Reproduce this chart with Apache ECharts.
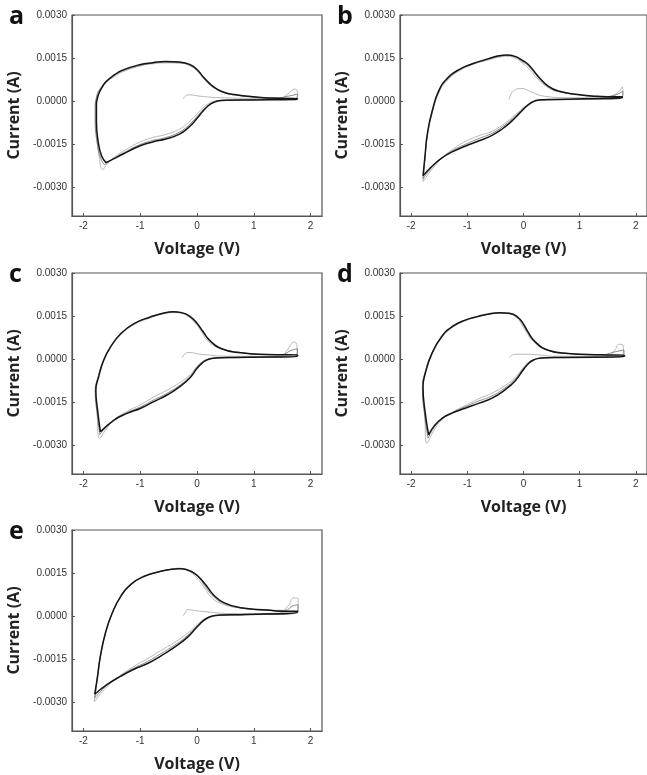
<!DOCTYPE html>
<html><head><meta charset="utf-8">
<script src="https://cdn.jsdelivr.net/npm/echarts@6/dist/echarts.min.js"></script>
<style>html,body{margin:0;padding:0;background:#fff}#c{width:647px;height:775px}</style>
</head><body><div id="c"></div>
<script>
// Tick values / labels
const xTicks = [-2, -1, 0, 1, 2];
const yTicks = [-0.003, -0.0015, 0, 0.0015, 0.003];
const panelLetters = ['a', 'b', 'c', 'd', 'e'];

// Curves: [voltage (V), current (mA)]
const aFirst = [[-0.24,0.08],[-0.20,0.18],[-0.14,0.22],[0.06,0.17],[0.40,0.12],[1.00,0.10],[1.45,0.10],[1.60,0.25],[1.72,0.42],[1.77,0.30],[1.74,0.10],[1.00,0.06],[0.55,0.04],[0.42,0.03],[0.30,0.00],[0.20,-0.09],[0.10,-0.24],[0.02,-0.40],[-0.06,-0.57],[-0.15,-0.74],[-0.31,-0.98],[-0.55,-1.16],[-0.78,-1.27],[-1.01,-1.43],[-1.31,-1.76],[-1.46,-1.96],[-1.58,-2.18],[-1.66,-2.38],[-1.72,-1.95],[-1.76,-1.30],[-1.79,-0.60],[-1.79,-0.10],[-1.77,0.12],[-1.74,0.30],[-1.69,0.47],[-1.60,0.66],[-1.45,0.86],[-1.31,1.02],[-1.01,1.22],[-0.78,1.30],[-0.55,1.33],[-0.30,1.32],[-0.13,1.24],[0.00,1.08],[0.12,0.82],[0.22,0.62],[0.32,0.46],[0.47,0.32],[0.65,0.24],[1.00,0.15],[1.41,0.11],[1.77,0.10]];
const aSecond = [[-1.63,-2.22],[-1.70,-1.95],[-1.76,-1.42],[-1.79,-0.70],[-1.79,-0.12],[-1.77,0.10],[-1.75,0.27],[-1.70,0.44],[-1.61,0.66],[-1.46,0.89],[-1.31,1.05],[-1.01,1.24],[-0.78,1.32],[-0.55,1.36],[-0.30,1.34],[-0.13,1.25],[0.00,1.06],[0.12,0.78],[0.22,0.58],[0.32,0.44],[0.47,0.30],[0.65,0.22],[1.00,0.14],[1.41,0.11],[1.62,0.18],[1.77,0.24],[1.74,0.07],[1.00,0.05],[0.55,0.03],[0.42,0.02],[0.30,-0.03],[0.20,-0.13],[0.10,-0.31],[0.02,-0.49],[-0.06,-0.67],[-0.15,-0.85],[-0.31,-1.08],[-0.55,-1.27],[-0.78,-1.37],[-1.01,-1.52],[-1.31,-1.82],[-1.46,-1.99],[-1.63,-2.22]];
const aLast = [[-1.60,-2.14],[-1.68,-1.90],[-1.74,-1.40],[-1.77,-0.70],[-1.77,-0.10],[-1.75,0.12],[-1.72,0.30],[-1.67,0.48],[-1.60,0.68],[-1.45,0.92],[-1.31,1.08],[-1.01,1.27],[-0.78,1.34],[-0.55,1.38],[-0.30,1.36],[-0.13,1.28],[0.00,1.10],[0.12,0.82],[0.22,0.62],[0.32,0.46],[0.47,0.31],[0.65,0.23],[1.00,0.15],[1.41,0.10],[1.77,0.09],[1.74,0.06],[1.00,0.04],[0.55,0.03],[0.42,0.02],[0.30,-0.04],[0.20,-0.16],[0.10,-0.36],[0.02,-0.55],[-0.06,-0.74],[-0.15,-0.92],[-0.31,-1.15],[-0.55,-1.32],[-0.78,-1.42],[-1.01,-1.56],[-1.31,-1.85],[-1.46,-2.00],[-1.60,-2.14]];

const bFirst = [[-0.26,0.06],[-0.22,0.25],[-0.18,0.35],[-0.10,0.43],[-0.03,0.44],[0.05,0.40],[0.15,0.31],[0.38,0.17],[0.79,0.12],[1.38,0.12],[1.55,0.18],[1.68,0.30],[1.76,0.50],[1.77,0.25],[1.70,0.08],[1.09,0.06],[0.50,0.04],[0.34,0.03],[0.24,0.01],[0.16,-0.03],[0.09,-0.10],[0.00,-0.22],[-0.09,-0.38],[-0.20,-0.56],[-0.38,-0.84],[-0.56,-1.05],[-0.79,-1.20],[-1.03,-1.40],[-1.26,-1.68],[-1.44,-1.96],[-1.62,-2.35],[-1.79,-2.80],[-1.76,-2.10],[-1.71,-1.20],[-1.62,-0.38],[-1.50,0.32],[-1.35,0.74],[-1.15,1.05],[-0.91,1.27],[-0.62,1.44],[-0.44,1.53],[-0.30,1.56],[-0.15,1.50],[-0.02,1.32],[0.09,1.14],[0.26,0.76],[0.44,0.47],[0.62,0.33],[0.97,0.22],[1.21,0.16],[1.50,0.14],[1.76,0.14]];
const bSecond = [[-1.79,-2.70],[-1.76,-2.08],[-1.71,-1.15],[-1.62,-0.33],[-1.50,0.37],[-1.35,0.78],[-1.15,1.08],[-0.91,1.29],[-0.62,1.46],[-0.44,1.56],[-0.30,1.59],[-0.15,1.54],[-0.02,1.38],[0.09,1.22],[0.26,0.83],[0.44,0.50],[0.62,0.34],[0.97,0.23],[1.21,0.18],[1.50,0.16],[1.65,0.22],[1.77,0.35],[1.76,0.11],[1.09,0.07],[0.50,0.05],[0.34,0.04],[0.24,0.02],[0.16,-0.03],[0.09,-0.11],[0.00,-0.25],[-0.09,-0.42],[-0.20,-0.62],[-0.38,-0.90],[-0.56,-1.12],[-0.79,-1.30],[-1.03,-1.50],[-1.26,-1.72],[-1.44,-1.96],[-1.62,-2.28],[-1.79,-2.70]];
const bLast = [[-1.79,-2.60],[-1.76,-2.02],[-1.71,-1.10],[-1.62,-0.29],[-1.50,0.40],[-1.35,0.81],[-1.15,1.10],[-0.91,1.30],[-0.62,1.48],[-0.44,1.58],[-0.30,1.61],[-0.15,1.56],[-0.02,1.42],[0.09,1.27],[0.26,0.87],[0.44,0.52],[0.62,0.35],[0.97,0.23],[1.21,0.18],[1.50,0.15],[1.76,0.15],[1.76,0.12],[1.09,0.08],[0.50,0.06],[0.34,0.05],[0.24,0.03],[0.16,-0.03],[0.09,-0.12],[0.00,-0.28],[-0.09,-0.46],[-0.20,-0.68],[-0.38,-0.97],[-0.56,-1.19],[-0.79,-1.38],[-1.03,-1.56],[-1.26,-1.76],[-1.44,-1.96],[-1.62,-2.25],[-1.79,-2.60]];

const cFirst = [[-0.26,0.06],[-0.20,0.20],[-0.14,0.23],[0.06,0.17],[0.65,0.10],[1.47,0.10],[1.60,0.35],[1.71,0.60],[1.76,0.45],[1.74,0.10],[0.65,0.05],[0.40,0.04],[0.28,0.02],[0.18,-0.01],[0.10,-0.08],[0.00,-0.25],[-0.11,-0.52],[-0.29,-0.80],[-0.52,-1.07],[-0.76,-1.32],[-0.99,-1.58],[-1.23,-1.82],[-1.46,-2.12],[-1.62,-2.50],[-1.71,-2.76],[-1.76,-1.90],[-1.79,-1.12],[-1.74,-0.62],[-1.65,-0.06],[-1.53,0.40],[-1.34,0.85],[-1.11,1.20],[-0.82,1.44],[-0.60,1.57],[-0.42,1.62],[-0.27,1.59],[-0.15,1.48],[-0.03,1.25],[0.07,0.98],[0.17,0.68],[0.35,0.42],[0.77,0.23],[1.24,0.16],[1.77,0.14]];
const cSecond = [[-1.71,-2.62],[-1.76,-1.82],[-1.79,-1.10],[-1.74,-0.62],[-1.65,-0.05],[-1.53,0.41],[-1.34,0.87],[-1.11,1.22],[-0.82,1.46],[-0.60,1.59],[-0.42,1.64],[-0.27,1.61],[-0.14,1.49],[-0.01,1.25],[0.09,0.98],[0.20,0.70],[0.40,0.39],[0.77,0.23],[1.24,0.16],[1.50,0.16],[1.65,0.30],[1.77,0.36],[1.76,0.10],[0.65,0.06],[0.40,0.05],[0.28,0.03],[0.18,-0.02],[0.10,-0.10],[0.00,-0.29],[-0.11,-0.58],[-0.29,-0.89],[-0.52,-1.18],[-0.76,-1.42],[-0.99,-1.66],[-1.23,-1.86],[-1.46,-2.12],[-1.71,-2.62]];
const cLast = [[-1.70,-2.53],[-1.75,-1.77],[-1.78,-1.08],[-1.73,-0.61],[-1.64,-0.03],[-1.52,0.43],[-1.34,0.89],[-1.11,1.24],[-0.82,1.47],[-0.60,1.60],[-0.42,1.65],[-0.27,1.62],[-0.13,1.50],[0.00,1.25],[0.10,0.98],[0.21,0.68],[0.42,0.37],[0.77,0.22],[1.24,0.16],[1.77,0.14],[1.77,0.10],[0.65,0.06],[0.40,0.05],[0.28,0.03],[0.18,-0.02],[0.10,-0.12],[0.00,-0.32],[-0.11,-0.62],[-0.29,-0.94],[-0.52,-1.24],[-0.76,-1.48],[-0.99,-1.71],[-1.23,-1.89],[-1.46,-2.12],[-1.70,-2.53]];

const dFirst = [[-0.25,0.06],[-0.20,0.14],[-0.15,0.17],[0.03,0.17],[0.62,0.10],[1.50,0.10],[1.62,0.30],[1.71,0.52],[1.78,0.45],[1.76,0.10],[0.62,0.05],[0.40,0.04],[0.28,0.02],[0.18,-0.02],[0.09,-0.10],[0.00,-0.28],[-0.15,-0.64],[-0.33,-0.92],[-0.56,-1.18],[-0.80,-1.38],[-1.04,-1.62],[-1.28,-1.86],[-1.45,-2.10],[-1.60,-2.50],[-1.72,-2.93],[-1.76,-2.00],[-1.80,-1.00],[-1.76,-0.52],[-1.64,0.16],[-1.46,0.74],[-1.28,1.08],[-1.04,1.33],[-0.81,1.47],[-0.60,1.56],[-0.42,1.60],[-0.25,1.57],[-0.12,1.44],[-0.03,1.20],[0.06,0.92],[0.17,0.62],[0.40,0.33],[0.79,0.20],[1.38,0.15],[1.80,0.13]];
const dSecond = [[-1.70,-2.75],[-1.76,-1.95],[-1.80,-0.98],[-1.76,-0.51],[-1.64,0.18],[-1.46,0.76],[-1.28,1.10],[-1.04,1.35],[-0.81,1.48],[-0.60,1.57],[-0.42,1.61],[-0.25,1.59],[-0.11,1.45],[-0.01,1.21],[0.07,0.94],[0.19,0.62],[0.42,0.32],[0.79,0.20],[1.38,0.15],[1.62,0.25],[1.79,0.32],[1.79,0.09],[0.62,0.06],[0.40,0.05],[0.28,0.03],[0.18,-0.02],[0.09,-0.13],[0.00,-0.33],[-0.15,-0.70],[-0.33,-1.00],[-0.56,-1.28],[-0.80,-1.46],[-1.04,-1.66],[-1.28,-1.87],[-1.45,-2.06],[-1.60,-2.40],[-1.70,-2.75]];
const dLast = [[-1.69,-2.64],[-1.75,-1.89],[-1.79,-0.96],[-1.75,-0.50],[-1.63,0.20],[-1.46,0.78],[-1.28,1.12],[-1.04,1.36],[-0.81,1.49],[-0.60,1.58],[-0.42,1.62],[-0.25,1.60],[-0.10,1.46],[0.00,1.22],[0.08,0.95],[0.20,0.62],[0.44,0.31],[0.79,0.20],[1.38,0.15],[1.80,0.13],[1.80,0.09],[0.62,0.06],[0.40,0.05],[0.28,0.03],[0.18,-0.03],[0.09,-0.15],[0.00,-0.36],[-0.15,-0.76],[-0.33,-1.07],[-0.56,-1.36],[-0.80,-1.54],[-1.04,-1.71],[-1.28,-1.89],[-1.45,-2.06],[-1.60,-2.35],[-1.69,-2.64]];

const eFirst = [[-0.24,0.02],[-0.20,0.15],[-0.17,0.23],[-0.05,0.20],[0.06,0.17],[0.65,0.09],[1.45,0.10],[1.60,0.35],[1.71,0.64],[1.78,0.60],[1.77,0.12],[0.77,0.04],[0.45,0.03],[0.32,0.01],[0.22,-0.02],[0.12,-0.10],[0.00,-0.30],[-0.17,-0.60],[-0.40,-0.92],[-0.64,-1.20],[-0.87,-1.48],[-1.11,-1.75],[-1.34,-2.05],[-1.58,-2.45],[-1.81,-2.99],[-1.76,-2.20],[-1.71,-1.45],[-1.62,-0.62],[-1.50,0.08],[-1.34,0.66],[-1.17,1.07],[-0.93,1.37],[-0.64,1.55],[-0.45,1.63],[-0.33,1.67],[-0.20,1.63],[-0.08,1.48],[0.02,1.28],[0.12,1.02],[0.25,0.66],[0.45,0.42],[0.77,0.28],[1.24,0.20],[1.77,0.16]];
const eSecond = [[-1.80,-2.85],[-1.75,-2.14],[-1.70,-1.42],[-1.61,-0.60],[-1.49,0.10],[-1.34,0.68],[-1.17,1.08],[-0.93,1.38],[-0.64,1.56],[-0.45,1.63],[-0.31,1.66],[-0.18,1.62],[-0.06,1.50],[0.04,1.32],[0.13,1.08],[0.28,0.70],[0.47,0.45],[0.77,0.29],[1.24,0.21],[1.55,0.20],[1.68,0.35],[1.78,0.40],[1.77,0.13],[0.77,0.05],[0.45,0.04],[0.32,0.02],[0.22,-0.03],[0.12,-0.13],[0.00,-0.35],[-0.17,-0.68],[-0.40,-1.02],[-0.64,-1.31],[-0.87,-1.58],[-1.11,-1.81],[-1.34,-2.07],[-1.58,-2.40],[-1.80,-2.85]];
const eLast = [[-1.80,-2.72],[-1.75,-2.09],[-1.70,-1.39],[-1.61,-0.58],[-1.49,0.12],[-1.34,0.70],[-1.17,1.10],[-0.93,1.39],[-0.64,1.56],[-0.45,1.63],[-0.30,1.65],[-0.17,1.61],[-0.05,1.50],[0.05,1.33],[0.15,1.10],[0.30,0.72],[0.48,0.46],[0.77,0.29],[1.24,0.21],[1.53,0.17],[1.77,0.17],[1.77,0.14],[0.77,0.05],[0.45,0.04],[0.32,0.02],[0.22,-0.03],[0.12,-0.15],[0.00,-0.38],[-0.17,-0.74],[-0.40,-1.09],[-0.64,-1.39],[-0.87,-1.65],[-1.11,-1.85],[-1.34,-2.09],[-1.58,-2.38],[-1.80,-2.72]];

const panelCurves = [
  [aFirst, aSecond, aLast],
  [bFirst, bSecond, bLast],
  [cFirst, cSecond, cLast],
  [dFirst, dSecond, dLast],
  [eFirst, eSecond, eLast]
];

// layout
const grids = [
  {left: 72, top: 15, width: 250, height: 201},
  {left: 400, top: 15, width: 251, height: 201},
  {left: 72, top: 273, width: 250, height: 201},
  {left: 400, top: 273, width: 251, height: 201},
  {left: 72, top: 530, width: 250, height: 201}
];
const letterPos = [[9, 4], [337, 4], [9, 262], [337, 262], [9, 519]];
const cycleStyles = [
  {color: '#b0b0b0', width: 0.9},
  {color: '#7a7a7a', width: 0.9},
  {color: '#151515', width: 1.5}
];

const chart = echarts.init(document.getElementById('c'), null, {renderer: 'canvas'});
const xAxes = [], yAxes = [], series = [], graphics = [];
grids.forEach((g, i) => {
  xAxes.push({
    type: 'value', gridIndex: i, min: -2.2, max: 2.2,
    name: 'Voltage (V)', nameLocation: 'middle', nameGap: 25,
    nameTextStyle: {fontFamily: 'Open Sans', fontWeight: 'bold', fontSize: 16, color: '#222'},
    axisLine: {show: true, onZero: false, lineStyle: {color: '#555', width: 1.2}},
    axisTick: {show: true, inside: true, length: 3, customValues: xTicks, lineStyle: {color: '#555'}},
    axisLabel: {customValues: xTicks, margin: 5, fontFamily: 'Liberation Sans', fontSize: 10, color: '#333'},
    splitLine: {show: false}
  });
  yAxes.push({
    type: 'value', gridIndex: i, min: -0.004, max: 0.003,
    name: 'Current (A)', nameLocation: 'middle', nameGap: 50, nameRotate: 90,
    nameTextStyle: {fontFamily: 'Open Sans', fontWeight: 'bold', fontSize: 16, color: '#222'},
    axisLine: {show: true, onZero: false, lineStyle: {color: '#555', width: 1.2}},
    axisTick: {show: true, inside: true, length: 3, customValues: yTicks, lineStyle: {color: '#555'}},
    axisLabel: {customValues: yTicks, margin: 5, fontFamily: 'Liberation Sans', fontSize: 10, color: '#333',
      formatter: v => v.toFixed(4)},
    splitLine: {show: false}
  });
  panelCurves[i].forEach((curve, k) => {
    series.push({
      type: 'line', xAxisIndex: i, yAxisIndex: i,
      data: curve.map(p => [p[0], p[1] / 1000]),
      showSymbol: false, smooth: 0.5, z: 2 + k,
      lineStyle: {color: cycleStyles[k].color, width: cycleStyles[k].width},
      silent: true
    });
  });
  graphics.push({
    type: 'text', left: letterPos[i][0], top: letterPos[i][1],
    style: {text: panelLetters[i], font: 'bold 25px "Open Sans"', fill: '#111'}
  });
});

chart.setOption({
  animation: false,
  backgroundColor: '#fff',
  grid: grids.map(g => Object.assign({show: true, borderColor: '#555', borderWidth: 1.2, backgroundColor: 'transparent', containLabel: false}, g)),
  xAxis: xAxes,
  yAxis: yAxes,
  series: series,
  graphic: graphics
});
</script></body></html>
